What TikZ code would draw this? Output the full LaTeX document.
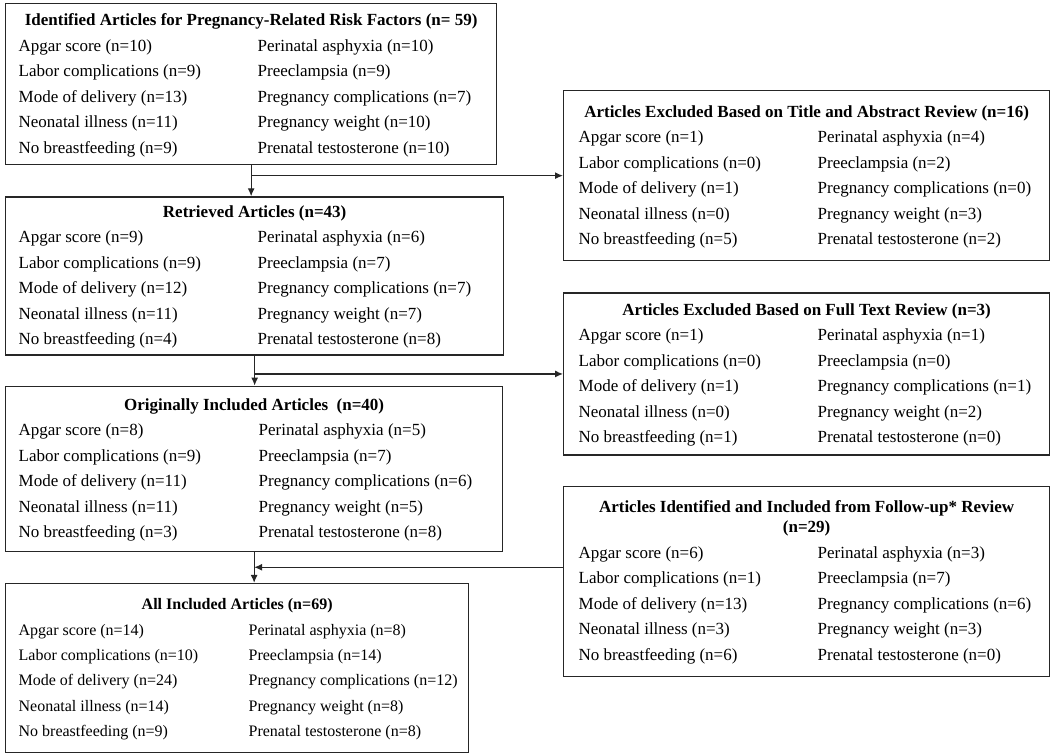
\documentclass[tikz,border=0pt]{standalone}
\usepackage{fontspec}
\setmainfont{Liberation Serif}
\usetikzlibrary{arrows.meta, positioning}

\begin{document}
\begin{tikzpicture}[
    x=1pt, y=1pt,
    box/.style={rectangle, draw=black!85, line width=1.3pt, inner xsep=13pt, inner ysep=0pt, font=\fontsize{17}{25.5}\selectfont},
    sidebox/.style={box, inner xsep=15pt},
    arrow/.style={line width=1.2pt, draw=black!85, -{Latex[length=8pt,width=7pt]}}
]
\useasboundingbox (0,0) rectangle (1050,-755);

% Main column
\node (identified) [box, minimum height=161pt, anchor=north west] at (5,-3) {%
\begin{tabular}{@{}p{239pt}@{}p{226pt}@{}}
\multicolumn{2}{@{}c@{}}{\textbf{Identified Articles for Pregnancy-Related Risk Factors (n= 59)}}\\
Apgar score (n=10) & Perinatal asphyxia (n=10)\\
Labor complications (n=9) & Preeclampsia (n=9)\\
Mode of delivery (n=13) & Pregnancy complications (n=7)\\
Neonatal illness (n=11) & Pregnancy weight (n=10)\\
No breastfeeding (n=9) & Prenatal testosterone (n=10)
\end{tabular}};
\node (retrieved) [box, minimum height=158pt, below=31pt of identified.south west, anchor=north west] {%
\begin{tabular}{@{}p{239pt}@{}p{233pt}@{}}
\multicolumn{2}{@{}c@{}}{\textbf{Retrieved Articles (n=43)}}\\
Apgar score (n=9) & Perinatal asphyxia (n=6)\\
Labor complications (n=9) & Preeclampsia (n=7)\\
Mode of delivery (n=12) & Pregnancy complications (n=7)\\
Neonatal illness (n=11) & Pregnancy weight (n=7)\\
No breastfeeding (n=4) & Prenatal testosterone (n=8)
\end{tabular}};
\node (original) [box, minimum height=165pt, below=30pt of retrieved.south west, anchor=north west] {%
\begin{tabular}{@{}p{240pt}@{}p{231pt}@{}}
\multicolumn{2}{@{}c@{}}{\textbf{Originally Included Articles~~(n=40)}}\\
Apgar score (n=8) & Perinatal asphyxia (n=5)\\
Labor complications (n=9) & Preeclampsia (n=7)\\
Mode of delivery (n=11) & Pregnancy complications (n=6)\\
Neonatal illness (n=11) & Pregnancy weight (n=5)\\
No breastfeeding (n=3) & Prenatal testosterone (n=8)
\end{tabular}};
\node (allincl) [box, font=\fontsize{16}{25.3}\selectfont, minimum height=169pt, below=31pt of original.south west, anchor=north west] {%
\begin{tabular}{@{}p{230pt}@{}p{207pt}@{}}
\multicolumn{2}{@{}c@{}}{\textbf{All Included Articles (n=69)}}\\
Apgar score (n=14) & Perinatal asphyxia (n=8)\\
Labor complications (n=10) & Preeclampsia (n=14)\\
Mode of delivery (n=24) & \mbox{Pregnancy complications (n=12)}\\
Neonatal illness (n=14) & Pregnancy weight (n=8)\\
No breastfeeding (n=9) & Prenatal testosterone (n=8)
\end{tabular}};

% Side column
\node (excltitle) [sidebox, minimum height=170pt, anchor=north west] at (563,-90) {%
\begin{tabular}{@{}p{239pt}@{}p{217pt}@{}}
\multicolumn{2}{@{}c@{}}{\textbf{Articles Excluded Based on Title and Abstract Review (n=16)}}\\
Apgar score (n=1) & Perinatal asphyxia (n=4)\\
Labor complications (n=0) & Preeclampsia (n=2)\\
Mode of delivery (n=1) & Pregnancy complications (n=0)\\
Neonatal illness (n=0) & Pregnancy weight (n=3)\\
No breastfeeding (n=5) & Prenatal testosterone (n=2)
\end{tabular}};
\node (exclfull) [sidebox, minimum height=162pt, below=31pt of excltitle.south west, anchor=north west] {%
\begin{tabular}{@{}p{239pt}@{}p{217pt}@{}}
\multicolumn{2}{@{}c@{}}{\textbf{Articles Excluded Based on Full Text Review (n=3)}}\\
Apgar score (n=1) & Perinatal asphyxia (n=1)\\
Labor complications (n=0) & Preeclampsia (n=0)\\
Mode of delivery (n=1) & Pregnancy complications (n=1)\\
Neonatal illness (n=0) & Pregnancy weight (n=2)\\
No breastfeeding (n=1) & Prenatal testosterone (n=0)
\end{tabular}};
\node (followup) [sidebox, minimum height=190pt, below=30pt of exclfull.south west, anchor=north west] {%
\begin{tabular}{@{}p{239pt}@{}p{217pt}@{}}
\multicolumn{2}{@{}c@{}}{\textbf{Articles Identified and Included from Follow-up* Review}}\\[-5pt]
\multicolumn{2}{@{}c@{}}{\textbf{(n=29)}}\\
Apgar score (n=6) & Perinatal asphyxia (n=3)\\
Labor complications (n=1) & Preeclampsia (n=7)\\
Mode of delivery (n=13) & Pregnancy complications (n=6)\\
Neonatal illness (n=3) & Pregnancy weight (n=3)\\
No breastfeeding (n=6) & Prenatal testosterone (n=0)
\end{tabular}};

% Arrows
\coordinate (join) at ([yshift=14pt]followup.west);
\draw [arrow] (identified.south) -- (identified.south |- retrieved.north);
\draw [arrow] (identified.south |- excltitle.west) -- (excltitle.west);
\draw [arrow] (retrieved.south) -- (retrieved.south |- original.north);
\draw [arrow] (retrieved.south |- exclfull.west) -- (exclfull.west);
\draw [arrow] (original.south) -- (original.south |- allincl.north);
\draw [arrow] (join) -- (original.south |- join);

\end{tikzpicture}
\end{document}
